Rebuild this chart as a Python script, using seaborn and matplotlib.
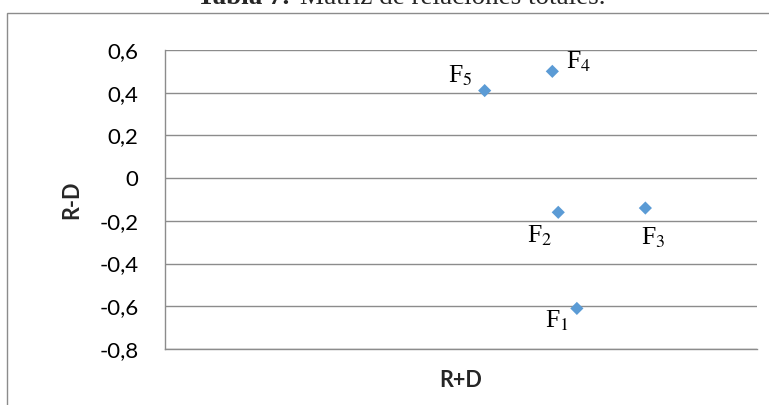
import matplotlib
matplotlib.use('Agg')
import matplotlib.pyplot as plt
import matplotlib.patches as patches
from matplotlib.ticker import FuncFormatter
import seaborn as sns
import pandas as pd

# Data (x axis has no tick labels, scale is assumed 0..7)
factors = ['F1', 'F2', 'F3', 'F4', 'F5']
r_plus_d = [4.87, 4.65, 5.68, 4.58, 3.78]
r_minus_d = [-0.61, -0.16, -0.14, 0.50, 0.41]
y_ticks = [-0.8, -0.6, -0.4, -0.2, 0, 0.2, 0.4, 0.6]

# label offsets (points) relative to each marker
label_offsets = {
    'F1': (-6, -14, 'right'),
    'F2': (-4, -22, 'right'),
    'F3': (-3, -26, 'left'),
    'F4': (10, 2, 'left'),
    'F5': (-9, 6, 'right'),
}

df = pd.DataFrame({'factor': factors, 'R+D': r_plus_d, 'R-D': r_minus_d})

sns.set_style('white')
plt.rcParams['font.family'] = ['Lato', 'DejaVu Sans']
plt.rcParams['mathtext.fontset'] = 'stix'

fig = plt.figure(figsize=(7.69, 4.05), dpi=100)
ax = fig.add_axes([165 / 769, 1 - 349 / 405, 592 / 769, 299 / 405])

sns.scatterplot(data=df, x='R+D', y='R-D', marker='D', s=45, color='#5B9BD5',
                edgecolor='none', ax=ax, zorder=3)

for f, x, y in zip(factors, r_plus_d, r_minus_d):
    dx, dy, ha = label_offsets[f]
    ax.annotate('F$_{' + f[1] + '}$', (x, y), xytext=(dx, dy), textcoords='offset points',
                ha=ha, va='baseline', fontsize=18.5, family='Liberation Serif', color='black')

ax.set_xlim(0, 7)
ax.set_ylim(-0.8, 0.6)
ax.set_yticks(y_ticks)
ax.set_xticks([])
ax.yaxis.set_major_formatter(FuncFormatter(lambda v, p: '0' if abs(v) < 1e-9 else f'{v:.1f}'.replace('.', ',')))
ax.tick_params(axis='y', length=0, pad=19, labelsize=16, labelcolor='black')
ax.grid(axis='y', color='#8c8c8c', linewidth=1)
for side in ['top', 'right']:
    ax.spines[side].set_visible(False)
for side in ['left', 'bottom']:
    ax.spines[side].set_color('#8c8c8c')
    ax.spines[side].set_linewidth(1)

ax.set_xlabel('R+D', fontsize=15.5, fontweight='bold', labelpad=15)
ax.set_ylabel('R-D', fontsize=15.5, fontweight='bold', labelpad=12)

# outer chart border (cut by the page on the right and bottom)
fig.patches.append(patches.Rectangle((7 / 769, -0.2), 1.2, 1.2 - 12.7 / 405,
                                     transform=fig.transFigure, fill=False,
                                     edgecolor='#8c8c8c', linewidth=1))

# table caption, cut at the top
fig.text(197 / 769, 1 - 3.5 / 405, 'Tabla 7.', ha='left', va='baseline',
         fontsize=19.5, fontweight='bold', family='Liberation Serif')
fig.text(300 / 769, 1 - 3.5 / 405, 'Matriz de relaciones totales.', ha='left', va='baseline',
         fontsize=19.5, family='Liberation Serif')

fig.savefig('out.png', dpi=100)
